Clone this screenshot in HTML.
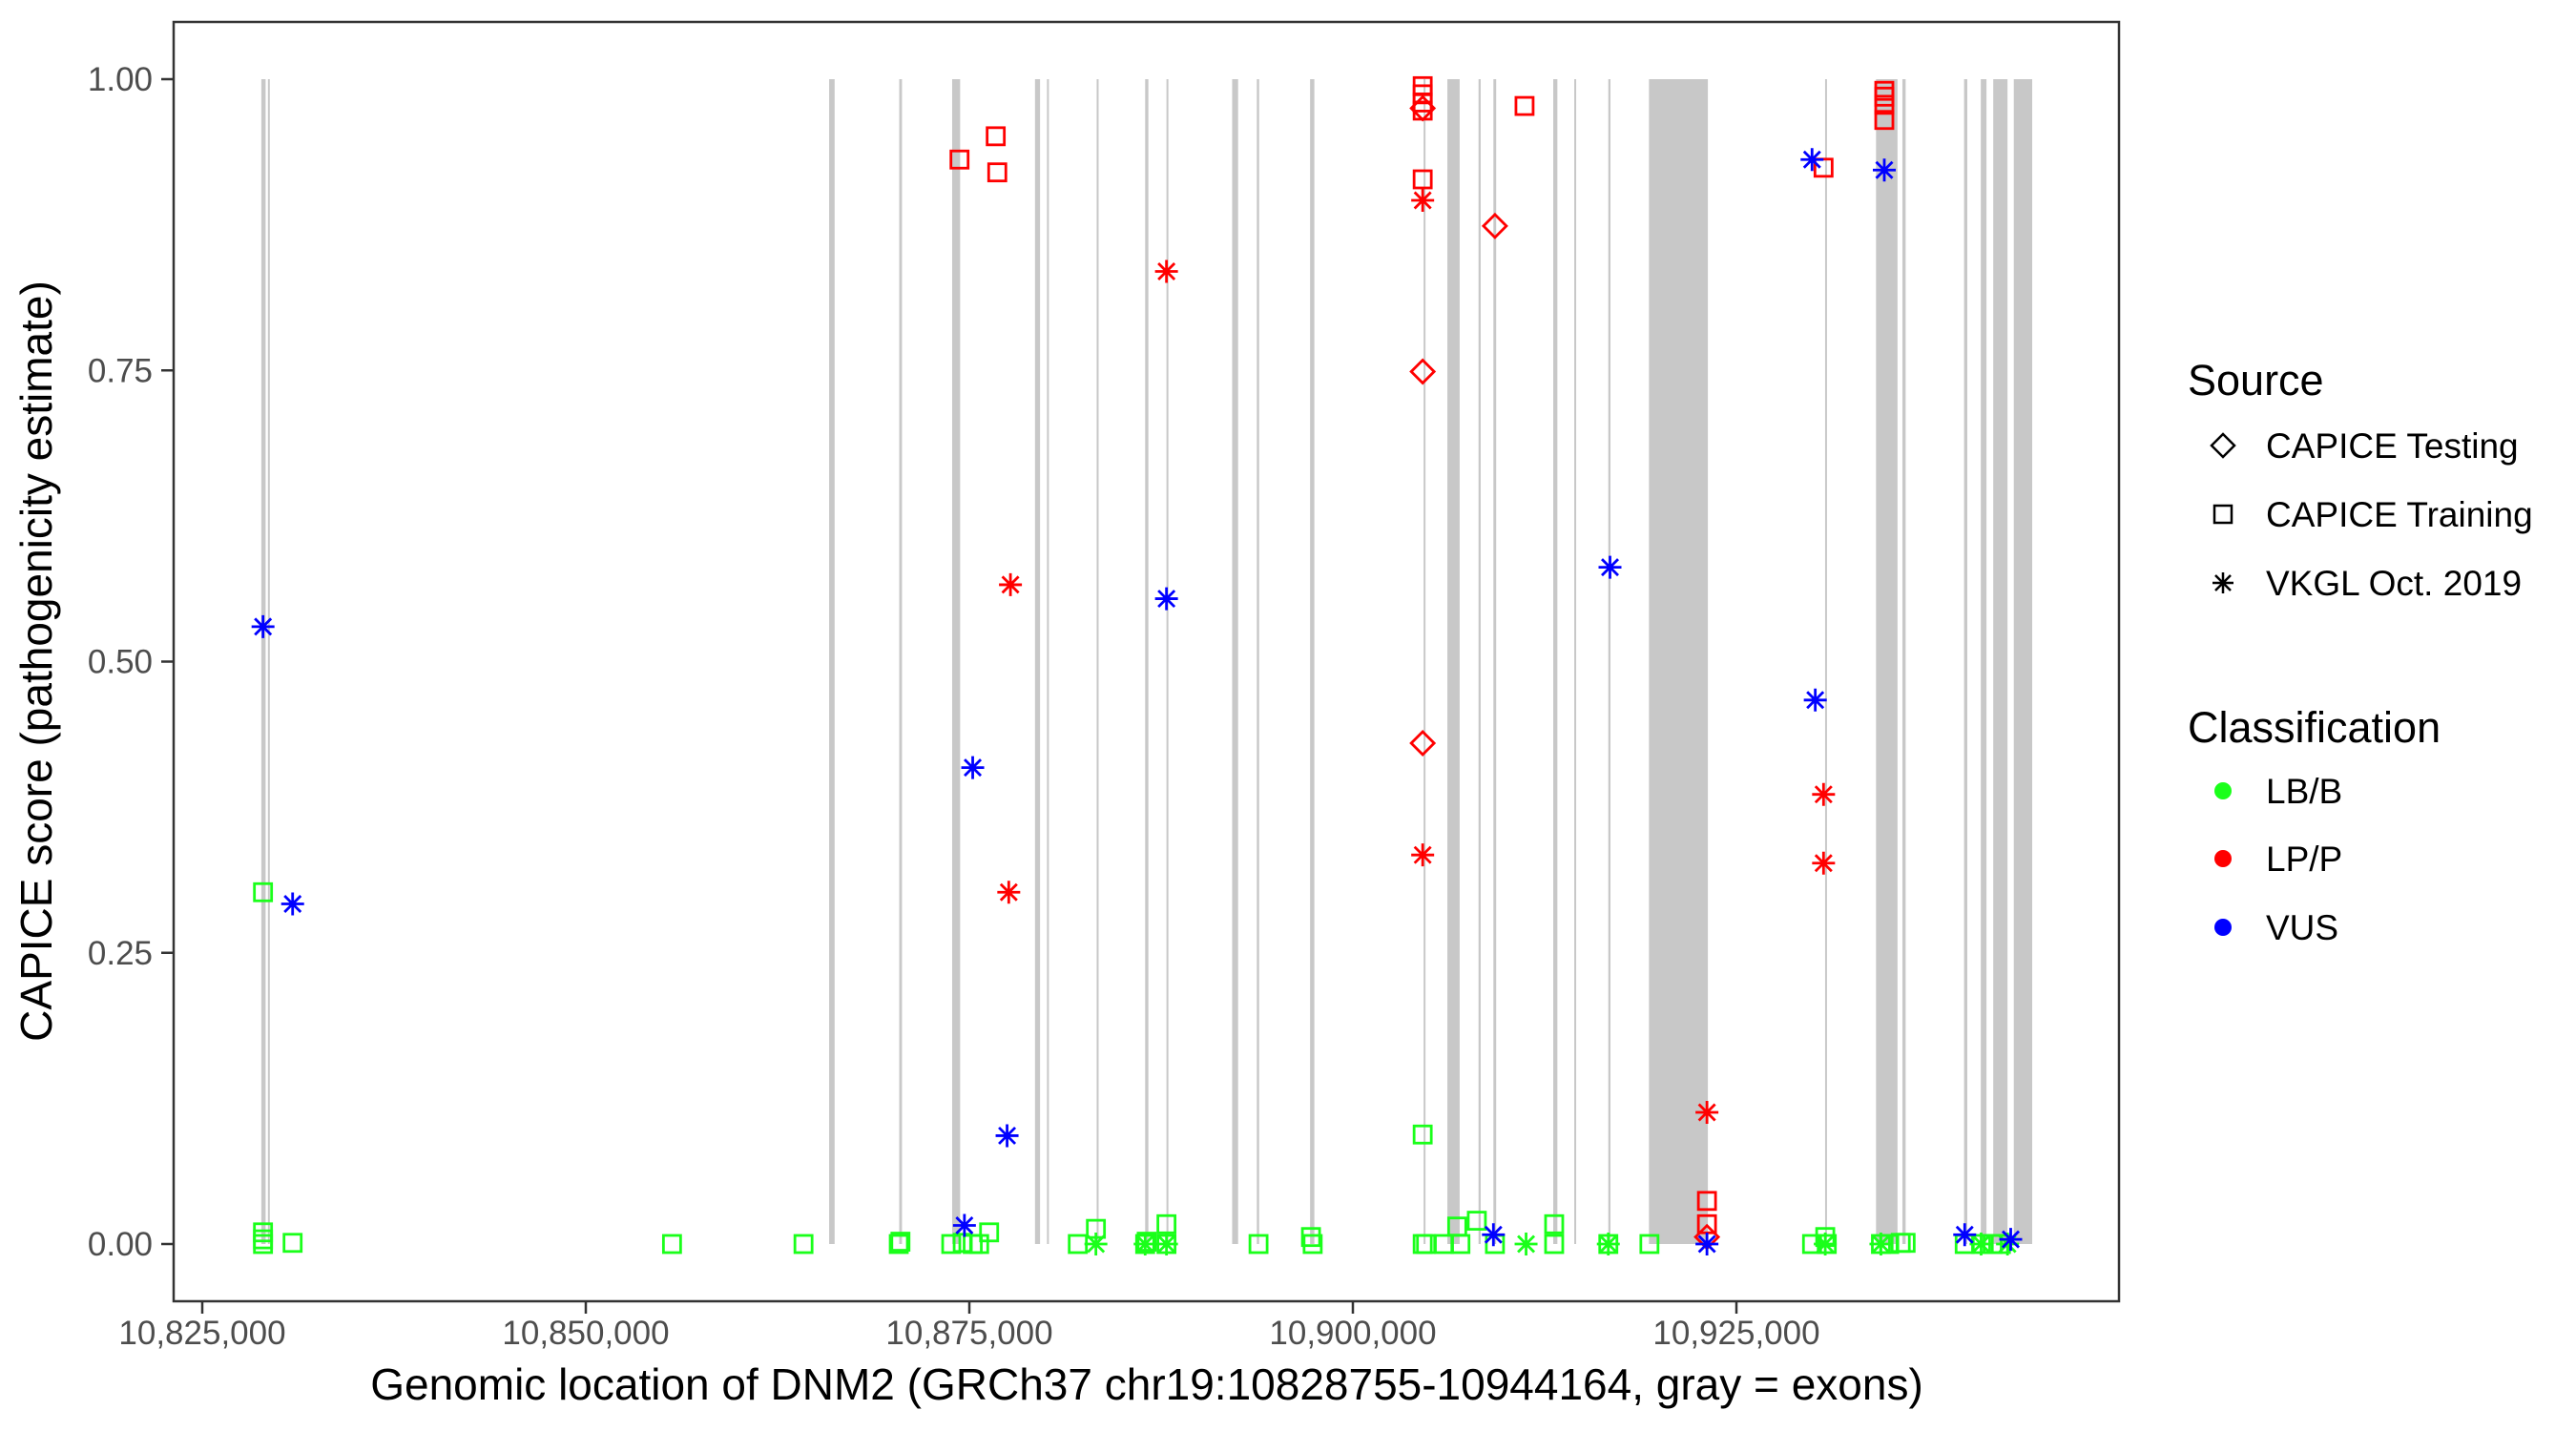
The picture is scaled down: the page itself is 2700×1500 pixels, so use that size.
<!DOCTYPE html>
<html><head><meta charset="utf-8"><style>
html,body{margin:0;padding:0;background:#fff;}
svg{display:block;font-family:"Liberation Sans",Arial,sans-serif;}
</style></head><body>
<svg id="chart" width="2700" height="1500" viewBox="0 0 2700 1500" xmlns="http://www.w3.org/2000/svg">
<rect x="0" y="0" width="2700" height="1500" fill="#fff"/>
<g id="exons"></g>
<g id="points"></g>
<rect x="182" y="23" width="2039" height="1341" fill="none" stroke="#333" stroke-width="2.5"/>
<g id="axes"></g>
<text transform="translate(54,693) rotate(-90)" text-anchor="middle" font-size="46" fill="#000">CAPICE score (pathogenicity estimate)</text>
<text x="1202" y="1467" text-anchor="middle" font-size="46" fill="#000">Genomic location of DNM2 (GRCh37 chr19:10828755-10944164, gray = exons)</text>
<g>
<text x="2293" y="414" font-size="45" fill="#000">Source</text>
<path d="M2318,467 L2330,455 L2342,467 L2330,479 Z" fill="none" stroke="#000" stroke-width="2.5"/>
<text x="2375" y="480" font-size="37" fill="#000">CAPICE Testing</text>
<rect x="2321" y="530" width="18" height="18" fill="none" stroke="#000" stroke-width="2.5"/>
<text x="2375" y="552" font-size="37" fill="#000">CAPICE Training</text>
<path d="M2330,600 V622 M2319,611 H2341 M2322,603 L2338,619 M2338,603 L2322,619" stroke="#000" stroke-width="2.5"/>
<text x="2375" y="624" font-size="37" fill="#000">VKGL Oct. 2019</text>
</g>
<g>
<text x="2293" y="778" font-size="45" fill="#000">Classification</text>
<circle cx="2330" cy="829" r="9" fill="#1aff1a"/>
<text x="2375" y="842" font-size="37" fill="#000">LB/B</text>
<circle cx="2330" cy="900" r="9" fill="#ff0000"/>
<text x="2375" y="913" font-size="37" fill="#000">LP/P</text>
<circle cx="2330" cy="972" r="9" fill="#0000ff"/>
<text x="2375" y="985" font-size="37" fill="#000">VUS</text>
</g>
</svg>
<script>
// genomic positions in kb
const exonStarts = [10828.85,10829.28,10865.86,10870.43,10873.88,10879.28,10880.06,10883.30,10886.46,10887.85,10892.13,10893.74,10897.21,10904.61,10906.16,10908.19,10909.16,10913.06,10914.43,10916.65,10919.30,10930.78,10934.10,10935.82,10939.84,10940.93,10941.74,10943.08];
const exonEnds   = [10829.13,10829.39,10866.22,10870.61,10874.40,10879.61,10880.18,10883.42,10886.67,10887.96,10892.52,10893.89,10897.49,10904.69,10906.96,10908.33,10909.34,10913.33,10914.51,10916.79,10923.14,10930.89,10935.50,10936.03,10940.05,10941.30,10942.67,10944.28];
const xTicks = [10825,10850,10875,10900,10925];
const xTickLabels = ["10,825,000","10,850,000","10,875,000","10,900,000","10,925,000"];
const yTicks = [0,0.25,0.5,0.75,1];
const yTickLabels = ["0.00","0.25","0.50","0.75","1.00"];

// series: [position kb, score]
const vusStars = [[10828.96,0.530],[10830.89,0.292],[10875.22,0.409],[10877.46,0.093],[10874.68,0.016],[10887.85,0.554],[10916.76,0.581],[10929.93,0.931],[10930.14,0.467],[10934.64,0.922],[10909.16,0.008],[10923.08,0.0],[10939.88,0.008],[10942.88,0.004]];
const lppStars = [[10877.68,0.566],[10877.57,0.302],[10887.85,0.835],[10904.55,0.896],[10904.55,0.334],[10923.08,0.113],[10930.68,0.386],[10930.68,0.327]];
const lppSquares = [[10874.36,0.931],[10876.72,0.951],[10876.82,0.920],[10904.55,0.994],[10904.55,0.987],[10904.55,0.980],[10904.55,0.973],[10904.55,0.914],[10911.19,0.977],[10930.68,0.924],[10934.64,0.990],[10934.64,0.985],[10934.64,0.978],[10934.64,0.965],[10923.08,0.037],[10923.08,0.017]];
const lppDiamonds = [[10904.55,0.975],[10904.55,0.749],[10904.55,0.430],[10909.26,0.874],[10923.08,0.006]];
const lbbSquares = [[10828.96,0.302],[10828.96,0.010],[10828.96,0.004],[10828.96,0.0],[10830.89,0.001],[10855.62,0.0],[10864.19,0.0],[10870.40,0.0],[10870.51,0.002],[10873.82,0.0],[10874.57,0.001],[10875.22,0.0],[10875.64,0.0],[10876.29,0.010],[10882.07,0.0],[10883.25,0.013],[10886.46,0.0],[10886.56,0.002],[10887.85,0.017],[10887.85,0.0],[10893.85,0.0],[10897.27,0.006],[10897.38,0.0],[10904.55,0.094],[10904.55,0.0],[10904.77,0.0],[10905.94,0.0],[10906.80,0.015],[10907.01,0.0],[10908.08,0.020],[10909.26,0.0],[10913.12,0.017],[10913.12,0.0],[10916.65,0.0],[10919.33,0.0],[10929.93,0.0],[10930.79,0.006],[10930.89,0.0],[10934.42,0.0],[10934.96,0.0],[10935.71,0.001],[10936.03,0.001],[10939.88,0.0],[10940.95,0.0],[10941.70,0.0],[10942.24,0.0]];
const lbbStars = [[10883.25,0.0],[10886.46,0.0],[10887.85,0.0],[10911.29,0.0],[10916.65,0.0],[10930.79,0.0],[10934.42,0.0],[10940.95,0.0],[10942.67,0.0]];

const NS = "http://www.w3.org/2000/svg";
function xScale(g){ return 212 + (g - 10825) * 402 / 25; }
function yScale(v){ return 1304 - v * 1221; }
function mk(tag, attrs, parent){ const e = document.createElementNS(NS, tag); for (const k in attrs) e.setAttribute(k, attrs[k]); parent.appendChild(e); return e; }

const exG = document.getElementById('exons');
for (let i = 0; i < exonStarts.length; i++) {
  const x0 = xScale(exonStarts[i]), x1 = xScale(exonEnds[i]);
  const r = mk('rect', {x: x0, y: yScale(1), width: Math.max(x1 - x0, 2), height: yScale(0) - yScale(1), fill: '#c8c8c8'}, exG);
  
  
}

const axG = document.getElementById('axes');
for (let i = 0; i < xTicks.length; i++) {
  const x = xScale(xTicks[i]);
  const t = mk('line', {x1: x, x2: x, y1: 1364, y2: 1377, stroke: '#333', 'stroke-width': 2.5}, axG);
  
  
  const l = mk('text', {x: x, y: 1409, 'text-anchor': 'middle', 'font-size': 35, fill: '#4d4d4d'}, axG);
  l.textContent = xTickLabels[i];
  
  
}
for (let i = 0; i < yTicks.length; i++) {
  const y = yScale(yTicks[i]);
  const t = mk('line', {x1: 169, x2: 182, y1: y, y2: y, stroke: '#333', 'stroke-width': 2.5}, axG);
  
  
  const l = mk('text', {x: 160, y: y + 12, 'text-anchor': 'end', 'font-size': 35, fill: '#4d4d4d'}, axG);
  l.textContent = yTickLabels[i];
  
  
}

const pG = document.getElementById('points');
function drawSquare(d, col){ const x = xScale(d[0]), y = yScale(d[1]);
  const e = mk('rect', {x: x - 9, y: y - 9, width: 18, height: 18, fill: 'none', stroke: col, 'stroke-width': 2.8}, pG);
  
   }
function drawDiamond(d, col){ const x = xScale(d[0]), y = yScale(d[1]);
  const e = mk('path', {d: `M${x-12},${y} L${x},${y-12} L${x+12},${y} L${x},${y+12} Z`, fill: 'none', stroke: col, 'stroke-width': 2.8}, pG);
  
   }
function drawStar(d, col){ const x = xScale(d[0]), y = yScale(d[1]), r = 12, q = 8.5;
  const e = mk('path', {d: `M${x},${y-r} V${y+r} M${x-r},${y} H${x+r} M${x-q},${y-q} L${x+q},${y+q} M${x+q},${y-q} L${x-q},${y+q}`, fill: 'none', stroke: col, 'stroke-width': 2.8}, pG);
  
   }

const G = '#1aff1a', R = '#ff0000', B = '#0000ff';
lbbSquares.forEach(d => drawSquare(d, G));
lbbStars.forEach(d => drawStar(d, G));
lppSquares.forEach(d => drawSquare(d, R));
lppDiamonds.forEach(d => drawDiamond(d, R));
lppStars.forEach(d => drawStar(d, R));
vusStars.forEach(d => drawStar(d, B));
</script>
</body></html>
